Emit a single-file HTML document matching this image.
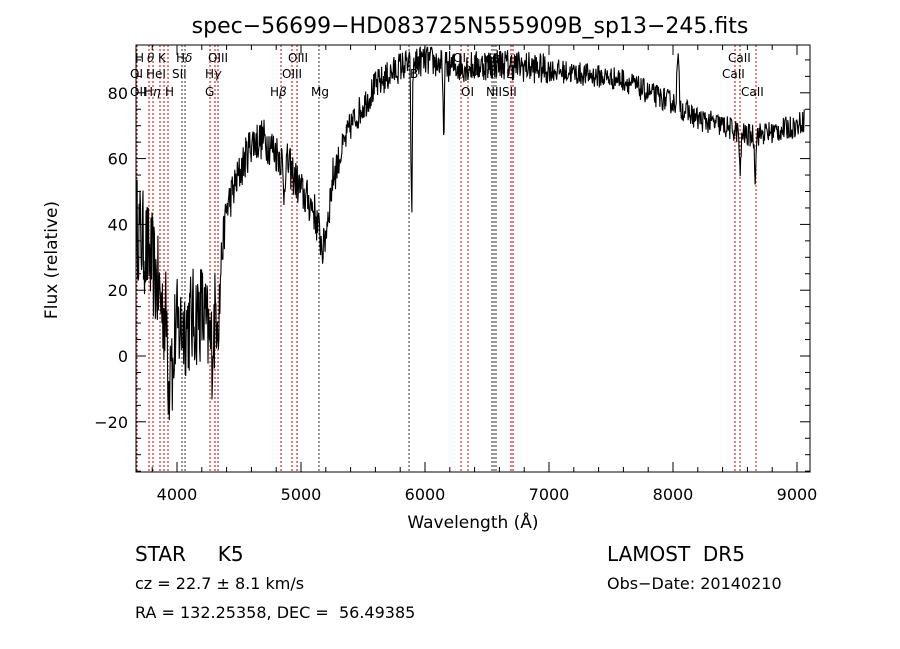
<!DOCTYPE html><html><head><style>body{margin:0;background:#fff}svg{display:block}text{font-family:"DejaVu Sans","Liberation Sans",sans-serif;fill:#000;white-space:pre}</style></head><body>
<svg id="s" width="900" height="649" xmlns="http://www.w3.org/2000/svg">
<rect width="900" height="649" fill="#fff"/>
<text x="470" y="33" font-size="22" text-anchor="middle">spec−56699−HD083725N555909B_sp13−245.fits</text>
<g id="lines"></g>
<path id="spec" fill="none" stroke="#000" stroke-width="1.1"/>
<rect x="136" y="45" width="674" height="427" fill="none" stroke="#000" stroke-width="1"/>
<g id="ticks" stroke="#000" stroke-width="1"></g>
<g id="lbl" font-size="16"></g>
<g font-size="12">
<text x="135" y="62">H</text><text x="147" y="62" font-style="italic">θ</text><text x="158" y="62">K</text><text x="176" y="62">H<tspan font-style="italic">δ</tspan></text><text x="208" y="62">OIII</text><text x="288" y="62">OIII</text>
<text x="130" y="78">OI</text><text x="146" y="78">HeI</text><text x="172" y="78">SII</text><text x="205" y="78">H<tspan font-style="italic">γ</tspan></text><text x="282" y="78">OIII</text>
<text x="130" y="96">OII</text><text x="144" y="96">H<tspan font-style="italic">η</tspan></text><text x="165" y="96">H</text><text x="205" y="96">G</text><text x="270" y="96">H<tspan font-style="italic">β</tspan></text><text x="311" y="96">Mg</text>
<text x="453" y="62">OI</text><text x="483" y="62">Hα</text><text x="728" y="62">CaII</text><text x="722" y="78">CaII</text><text x="741" y="96">CaII</text>
<text x="461" y="96">OI</text><text x="486" y="96">NIISII</text><text x="486" y="78">II</text><text x="506" y="78">L</text><text x="410" y="78">B</text>
</g>
<text x="57" y="260" font-size="17" transform="rotate(-90 57 260)" text-anchor="middle">Flux (relative)</text>
<text x="473" y="528" font-size="17" text-anchor="middle">Wavelength (Å)</text>
<text x="135" y="561" font-size="20">STAR     K5</text>
<text x="607" y="561" font-size="20">LAMOST  DR5</text>
<text x="135" y="589" font-size="16">cz = 22.7 ± 8.1 km/s</text>
<text x="607" y="589" font-size="16">Obs−Date: 20140210</text>
<text x="135" y="618" font-size="16">RA = 132.25358, DEC =  56.49385</text>
</svg>
<script>
const NS="http://www.w3.org/2000/svg";
const X=l=>177+(l-4000)*0.124, Y=v=>356-3.29*v;
function el(p,t,a){const e=document.createElementNS(NS,t);for(const k in a)e.setAttribute(k,a[k]);p.appendChild(e);return e;}
const L=document.getElementById('lines');
[[137,'r'],[149,'r'],[153,'r'],[160,'r'],[164,'r'],[168,'r'],[182,'g'],[185,'g'],[210,'r'],[215,'r'],[218,'r'],[281,'r'],[292,'r'],[297,'r'],[319,'g'],[409,'g'],[461,'r'],[468,'r'],[492,'g'],[494,'g'],[496,'g'],[511,'r'],[513,'r'],[735,'r'],[740,'r'],[756,'r']].forEach(([x,c])=>el(L,'line',{x1:x,x2:x,y1:45,y2:472,stroke:c=='r'?'#c00000':'#333','stroke-width':1,'stroke-dasharray':'2,2'}));
const T=document.getElementById('ticks'),G=document.getElementById('lbl');
for(let l=3800;l<=9000;l+=200){const x=X(l),m=l%1000==0,h=m?10:5;el(T,'line',{x1:x,x2:x,y1:472,y2:472-h});el(T,'line',{x1:x,x2:x,y1:45,y2:45+h});if(m){const t=el(G,'text',{x:x,y:500,'text-anchor':'middle'});t.textContent=l;}}
for(let v=-35;v<=90;v+=5){const y=Y(v),m=v%20==0,h=m?10:5;el(T,'line',{x1:136,x2:136+h,y1:y,y2:y});el(T,'line',{x1:810,x2:810-h,y1:y,y2:y});if(m){const t=el(G,'text',{x:128,y:y+6,'text-anchor':'end'});t.textContent=v<0?'−'+(-v):v;}}
const K=[[3670,40],[3800,28],[3900,12],[4000,8],[4100,10],[4200,14],[4280,2],[4330,20],[4400,45],[4500,55],[4600,65],[4700,66],[4800,62],[4900,58],[5000,50],[5100,45],[5180,32],[5260,55],[5400,70],[5600,82],[5700,85],[5800,88],[6000,90],[6200,88],[6400,88],[6600,89],[6800,88],[7000,87],[7400,85],[7600,84],[7800,80],[8000,77],[8200,72],[8400,70],[8600,67],[8800,68],[9000,70],[9060,72]];
function base(l){for(let i=0;i<K.length-1;i++)if(l<=K[i+1][0]){const f=(l-K[i][0])/(K[i+1][0]-K[i][0]);return K[i][1]+f*(K[i+1][1]-K[i][1]);}return 72;}
let s=12345;const r=()=>{s=(s*16807)%2147483647;return s/2147483647-0.5;};
const dips=[[5892,45,8],[6150,20,8],[8542,14,8],[8662,12,8],[4861,10,10],[4340,10,10],[3934,20,10],[3968,18,10],[8040,-14,12]];
let d='';
for(let l=3670;l<=9060;l+=4){let v=base(l);const a=l<4350?20:l<5300?8:l<7000?6:4.5;v+=a*r()*1.6;for(const[c,dd,w]of dips){const q=(l-c)/w;v-=dd*Math.exp(-q*q);}v=Math.min(94,Math.max(-34,v));d+=(d?'L':'M')+X(l).toFixed(1)+','+Y(v).toFixed(1);}
document.getElementById('spec').setAttribute('d',d);
</script>
</body></html>
